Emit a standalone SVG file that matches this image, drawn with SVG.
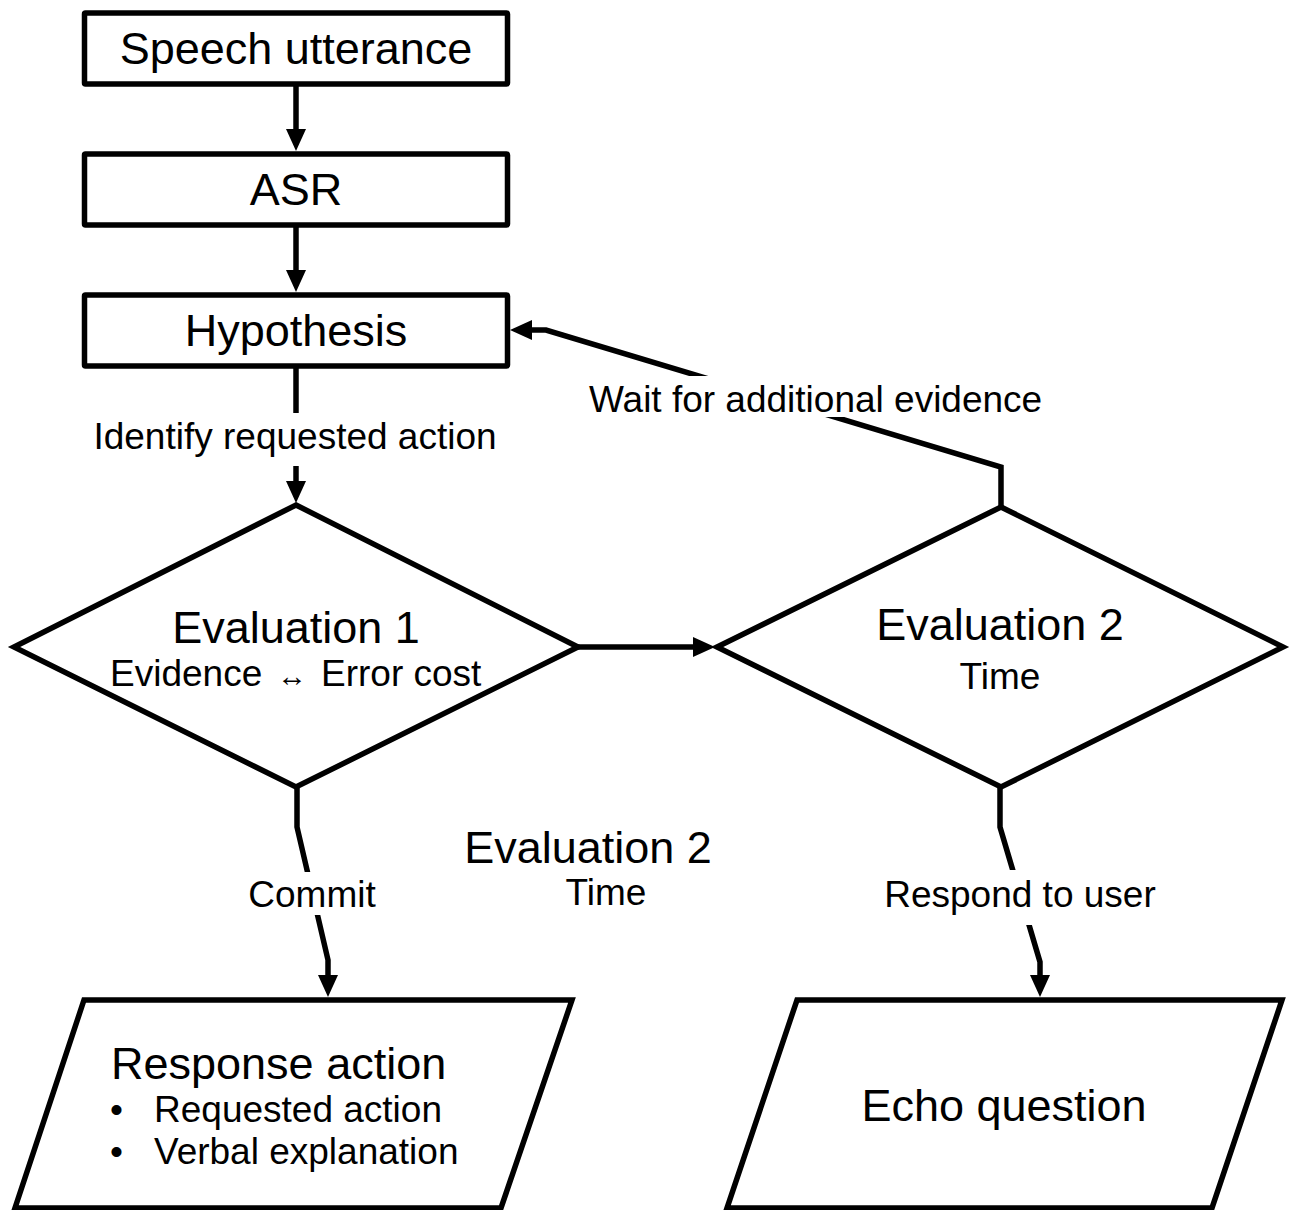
<svg xmlns="http://www.w3.org/2000/svg" width="1290" height="1210" viewBox="0 0 1290 1210">
<style>
  .node { fill: #fff; stroke: #000; stroke-width: 5.5; stroke-linejoin: miter; }
  .edge { fill: none; stroke: #000; stroke-width: 5.5; stroke-linejoin: miter; }
  .lbg { fill: #fff; stroke: none; }
  text { font-family: "Liberation Sans", Arial, sans-serif; fill: #000; }
  .t44 { font-size: 45px; }
  .t37 { font-size: 37px; }
  .t36 { font-size: 37px; }
  .mid { text-anchor: middle; }
</style>
<defs>
  <marker id="ah" markerWidth="22" markerHeight="20" refX="12" refY="10" orient="auto" markerUnits="userSpaceOnUse">
    <path d="M0,0 L22,10 L0,20 z" fill="#000"/>
  </marker>
</defs>
<rect width="1290" height="1210" fill="#fff"/>

<g id="speech">
  <rect class="node" x="84.5" y="13" width="423" height="71" rx="1"/>
  <text class="t44 mid" x="296" y="64">Speech utterance</text>
</g>
<g id="asr">
  <rect class="node" x="84.5" y="154" width="423" height="71" rx="1"/>
  <text class="t44 mid" x="296" y="205">ASR</text>
</g>
<g id="hypothesis">
  <rect class="node" x="84.5" y="295" width="423" height="71" rx="1"/>
  <text class="t44 mid" x="296" y="346">Hypothesis</text>
</g>
<g id="eval1">
  <polygon class="node" points="296,505 578,647 296,787 14,647"/>
  <text class="t44 mid" x="296" y="643">Evaluation 1</text>
  <text class="t37" y="686"><tspan x="110">Evidence</tspan><tspan x="277" font-size="30">↔</tspan><tspan x="321">Error cost</tspan></text>
</g>
<g id="eval2">
  <polygon class="node" points="1001,507 1283,647 1001,787 717,647"/>
  <text class="t44 mid" x="1000" y="640">Evaluation 2</text>
  <text class="t36 mid" x="1000" y="689">Time</text>
</g>
<g id="response">
  <polygon class="node" points="84,1000 572,1000 501,1208 15,1208"/>
  <text class="t44" x="111" y="1079">Response action</text>
  <text class="t37" x="110" y="1122">•</text>
  <text class="t37" x="154" y="1122">Requested action</text>
  <text class="t37" x="110" y="1164">•</text>
  <text class="t37" x="154" y="1164">Verbal explanation</text>
</g>
<g id="echo">
  <polygon class="node" points="797,1000 1282,1000 1212,1208 727,1208"/>
  <text class="t44 mid" x="1004" y="1121">Echo question</text>
</g>
<g id="free-text">
  <text class="t44 mid" x="588" y="863">Evaluation 2</text>
  <text class="t36 mid" x="606" y="905">Time</text>
</g>

<g id="connectors">
  <path class="edge" d="M296,84 V141" marker-end="url(#ah)"/>
  <path class="edge" d="M296,225 V282" marker-end="url(#ah)"/>
  <path class="edge" d="M296,366 V493" marker-end="url(#ah)"/>
  <path class="edge" d="M578,647 H705" marker-end="url(#ah)"/>
  <path class="edge" d="M1001,507 V467 L546,330 H520" marker-end="url(#ah)"/>
  <path class="edge" d="M297,787 V827 L328,960 V987" marker-end="url(#ah)"/>
  <path class="edge" d="M1000,787 V827 L1040,962 V987" marker-end="url(#ah)"/>
  <rect class="lbg" x="88" y="413" width="414" height="53"/>
  <rect class="lbg" x="585" y="376" width="464" height="41"/>
  <rect class="lbg" x="245" y="872" width="136" height="43"/>
  <rect class="lbg" x="880" y="870" width="280" height="55"/>
  <text class="t37 mid" x="295" y="449">Identify requested action</text>
  <text class="t37" x="589" y="412">Wait for additional evidence</text>
  <text class="t37 mid" x="312" y="907">Commit</text>
  <text class="t37 mid" x="1020" y="907">Respond to user</text>
</g>
</svg>
